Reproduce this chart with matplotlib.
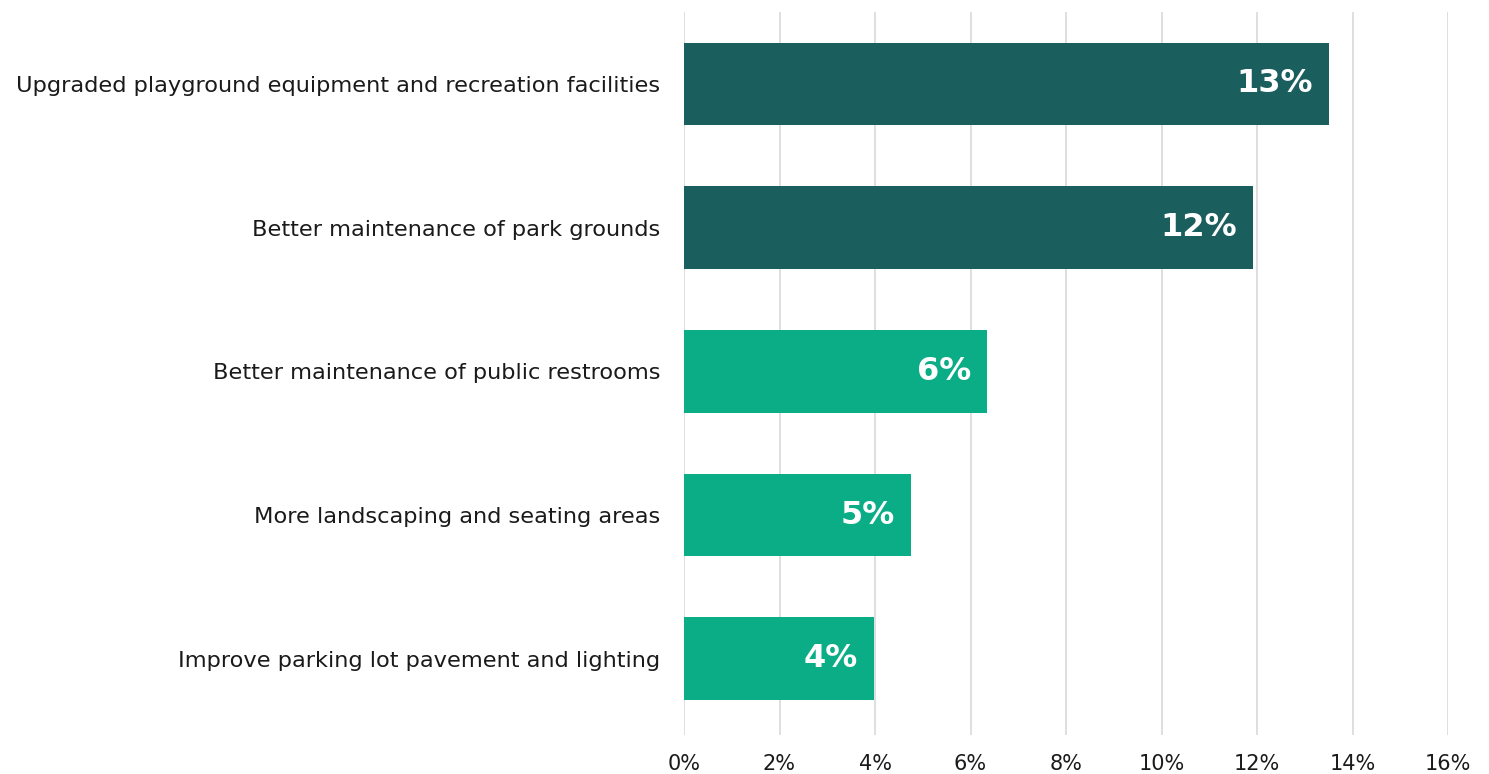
import matplotlib
matplotlib.use("Agg")
import matplotlib.pyplot as plt
from matplotlib.ticker import FuncFormatter

categories = [
    "Upgraded playground equipment and recreation facilities",
    "Better maintenance of park grounds",
    "Better maintenance of public restrooms",
    "More landscaping and seating areas",
    "Improve parking lot pavement and lighting",
]
values = [13.5, 11.92, 6.35, 4.75, 3.98]
value_labels = ["13%", "12%", "6%", "5%", "4%"]
colors = ["#1a5e5e", "#1a5e5e", "#0aad85", "#0aad85", "#0aad85"]
xticks = [0, 2, 4, 6, 8, 10, 12, 14, 16]

plt.rcParams['font.family'] = ['DejaVu Sans']

fig = plt.figure(figsize=(14.89, 7.74), dpi=100)
ax = fig.add_axes([684/1489, 1 - 735/774, (1448-684)/1489, (735-12)/774])

y = list(range(len(categories)))
ax.barh(y, values, height=0.575, color=colors, zorder=3)
for yi, v, lab in zip(y, values, value_labels):
    ax.text(v - 0.33, yi, lab, ha="right", va="center", color="white",
            fontsize=23, fontweight="bold", zorder=4)

ax.set_xlim(0, 16)
ax.set_ylim(4.53, -0.5)
ax.set_xticks(xticks)
ax.xaxis.set_major_formatter(FuncFormatter(lambda x, p: f"{x:g}%"))
ax.set_yticks(y)
ax.set_yticklabels(categories)
ax.tick_params(axis="y", length=0, labelsize=16.2, colors="#1a1a1a", pad=17)
ax.tick_params(axis="x", length=0, labelsize=15, colors="#1a1a1a", pad=14)
ax.grid(axis="x", color="#d9d9d9", linewidth=1.2, zorder=0)
for s in ax.spines.values():
    s.set_visible(False)

fig.savefig("out.png", dpi=100)
